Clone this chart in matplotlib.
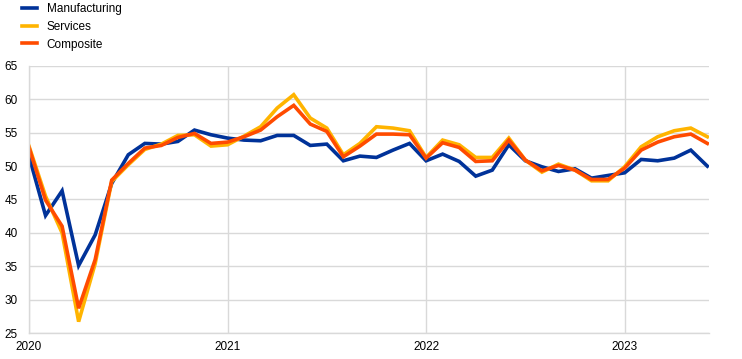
import matplotlib
matplotlib.use("Agg")
import matplotlib.pyplot as plt
import numpy as np

plt.rcParams['font.family'] = ['Liberation Sans', 'DejaVu Sans']

months = np.arange(42)  # Jan 2020 .. Jun 2023
year_ticks = [0, 12, 24, 36]
year_labels = ["2020", "2021", "2022", "2023"]

manufacturing = [51.5, 42.6, 46.3, 35.1, 39.7, 47.4, 51.7, 53.4, 53.3, 53.7, 55.4, 54.7,
                 54.2, 53.9, 53.8, 54.6, 54.6, 53.1, 53.3, 50.8, 51.5, 51.3, 52.4, 53.4,
                 50.8, 51.8, 50.7, 48.5, 49.4, 53.2, 50.8, 49.9, 49.2, 49.6, 48.2, 48.6,
                 49.0, 51.0, 50.8, 51.2, 52.4, 50.0]
services = [53.0, 45.5, 40.0, 26.7, 35.4, 47.7, 50.2, 52.5, 53.3, 54.6, 54.7, 53.0,
            53.2, 54.5, 55.9, 58.7, 60.7, 57.2, 55.7, 51.7, 53.4, 55.9, 55.7, 55.3,
            51.3, 53.9, 53.2, 51.3, 51.3, 54.2, 50.9, 49.1, 50.3, 49.4, 47.8, 47.8,
            49.9, 52.9, 54.4, 55.3, 55.7, 54.4]
composite = [52.8, 44.9, 41.0, 28.7, 36.0, 47.9, 50.4, 52.7, 53.1, 54.3, 54.9, 53.4,
             53.6, 54.4, 55.4, 57.4, 59.1, 56.3, 55.2, 51.4, 53.0, 54.8, 54.8, 54.7,
             51.2, 53.5, 52.8, 50.7, 50.8, 53.9, 50.9, 49.3, 50.1, 49.4, 48.0, 48.0,
             49.7, 52.4, 53.6, 54.4, 54.8, 53.4]

series = [("Manufacturing", manufacturing, "#003299"),
          ("Services", services, "#ffb400"),
          ("Composite", composite, "#ff4b00")]

fig = plt.figure(figsize=(7.42, 3.59), dpi=100)
ax = fig.add_axes([29/742, 1 - 333/359, (709 - 29)/742, (333 - 66)/359])

handles = []
for name, vals, col in series:
    h, = ax.plot(months, vals, color=col, lw=2.6, solid_joinstyle='miter', label=name)
    handles.append(h)

ax.set_xlim(0, 41.1)
ax.set_ylim(25, 65)
ax.set_yticks(np.arange(25, 66, 5))
ax.set_xticks(year_ticks)
ax.set_xticklabels(year_labels)
ax.grid(True, color="#d9d9d9", lw=1)
ax.set_axisbelow(True)
for s in ["top", "right"]:
    ax.spines[s].set_visible(False)
for s in ["left", "bottom"]:
    ax.spines[s].set_color("#d9d9d9")
    ax.spines[s].set_linewidth(1)
ax.tick_params(length=0, labelsize=8.5, colors="black")
ax.tick_params(axis='y', pad=8)
ax.tick_params(axis='x', pad=6)

fig.legend(handles=handles, loc="upper left", bbox_to_anchor=(0.02, 1.012),
           frameon=False, fontsize=8.5, handlelength=1.3, handletextpad=0.8,
           labelspacing=0.5, borderaxespad=0.2)

fig.savefig("out.png", dpi=100)
